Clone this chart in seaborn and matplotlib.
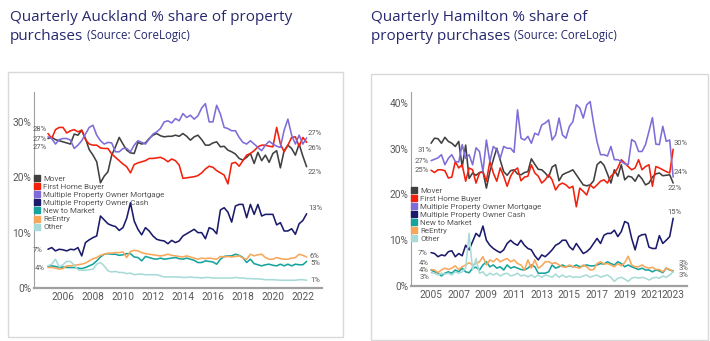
import numpy as np
import pandas as pd
import seaborn as sns
import matplotlib
matplotlib.use("Agg")
import matplotlib.pyplot as plt
from matplotlib.lines import Line2D
from matplotlib.patches import Rectangle

# ---------------- data ----------------
segments = ["Mover", "First Home Buyer", "Multiple Property Owner Mortgage",
            "Multiple Property Owner Cash", "New to Market", "ReEntry", "Other"]
colors = ["#404040", "#f2200c", "#7f6cd8", "#1c1b6b", "#17a39d", "#f8a75a", "#a8dbd7"]

akl_quarters = [str(p) for p in pd.period_range("2005Q1", periods=70, freq="Q")]
hmn_quarters = [str(p) for p in pd.period_range("2005Q1", periods=71, freq="Q")]

akl_mover = [27.0, 27.2, 26.8, 26.6, 26.4, 26.2, 26.0, 27.8, 27.6, 28.5,
             27.0, 25.0, 24.0, 22.8, 19.0, 20.2, 21.0, 24.0, 25.5, 27.2,
             26.0, 24.9, 24.4, 24.3, 26.3, 26.0, 26.2, 27.0, 27.6, 27.9,
             27.5, 27.3, 27.4, 27.4, 27.6, 27.4, 27.9, 27.4, 26.7, 27.3,
             27.6, 26.8, 25.8, 25.8, 26.2, 26.4, 25.5, 25.6, 24.9, 24.6,
             24.2, 23.4, 23.1, 23.6, 24.3, 22.5, 24.5, 23.0, 24.0, 22.7,
             24.3, 24.8, 21.7, 24.8, 25.8, 25.2, 24.0, 26.0, 23.8, 21.9]
akl_fhb = [27.9, 27.0, 28.6, 29.0, 29.0, 28.0, 28.4, 28.6, 28.2, 28.5,
           26.8, 26.0, 25.8, 25.8, 25.3, 25.2, 25.2, 24.2, 23.6, 23.0,
           22.4, 21.9, 20.8, 22.3, 22.6, 22.8, 23.0, 23.4, 23.4, 23.5,
           23.6, 23.3, 22.8, 23.3, 23.0, 22.2, 19.8, 19.9, 20.0, 20.1,
           20.3, 20.8, 21.5, 22.0, 21.8, 21.2, 20.8, 20.4, 18.8, 22.5,
           22.7, 22.0, 23.0, 24.0, 24.3, 24.8, 25.5, 25.8, 25.8, 25.6,
           25.5, 29.0, 26.0, 24.6, 25.8, 27.2, 27.3, 25.6, 27.2, 26.3]
akl_mortgage = [27.3, 27.0, 26.0, 26.8, 27.0, 27.0, 26.7, 25.2, 25.8, 26.6,
                27.8, 29.0, 29.4, 27.6, 26.6, 26.0, 26.3, 26.2, 24.6, 24.6,
                25.2, 25.2, 24.6, 25.8, 26.6, 26.3, 26.0, 26.9, 27.8, 28.2,
                28.8, 30.0, 30.2, 29.8, 30.6, 30.2, 31.5, 30.8, 31.2, 30.5,
                31.1, 32.5, 33.3, 30.0, 30.0, 33.0, 31.4, 29.0, 28.8, 28.4,
                28.4, 27.2, 26.3, 26.0, 26.6, 26.0, 25.4, 24.8, 25.8, 26.5,
                26.0, 25.6, 25.4, 28.5, 30.5, 27.6, 26.0, 27.6, 26.0, 27.1]
akl_cash = [7.0, 7.3, 6.7, 7.0, 6.9, 6.7, 7.0, 6.9, 7.3, 5.8,
            8.2, 8.7, 9.1, 9.4, 13.0, 12.3, 11.6, 11.3, 11.1, 10.4,
            10.9, 12.6, 15.4, 12.1, 10.6, 9.6, 10.9, 10.3, 9.4, 8.8,
            8.6, 8.5, 8.0, 8.6, 8.2, 8.5, 9.4, 9.8, 10.2, 10.6,
            10.0, 10.0, 8.9, 10.9, 10.6, 9.8, 14.1, 14.5, 13.7, 11.9,
            14.8, 15.1, 15.1, 12.7, 15.1, 13.3, 15.1, 13.0, 13.3, 13.3,
            13.3, 11.4, 11.8, 10.3, 10.3, 10.7, 9.7, 11.6, 12.2, 13.4]
akl_new = [3.9, 4.0, 3.9, 3.7, 3.8, 3.7, 3.7, 3.7, 3.6, 3.5,
           3.7, 4.0, 4.3, 4.9, 5.6, 6.1, 6.2, 6.1, 6.1, 5.9,
           6.0, 6.2, 6.2, 5.6, 5.5, 4.9, 5.7, 5.5, 5.3, 5.2,
           5.4, 5.2, 5.3, 5.4, 5.5, 5.3, 5.2, 5.4, 5.2, 5.0,
           4.6, 4.6, 4.9, 4.8, 4.7, 4.3, 5.2, 5.7, 5.8, 5.8,
           6.1, 5.9, 5.5, 4.6, 5.2, 4.4, 4.2, 4.0, 4.2, 4.3,
           4.1, 4.0, 4.3, 4.0, 4.3, 4.0, 4.3, 4.2, 4.2, 4.8]
akl_reentry = [3.7, 3.7, 3.6, 3.4, 3.5, 4.0, 4.0, 4.1, 4.2, 4.3,
               4.5, 4.9, 5.3, 5.5, 5.9, 6.1, 6.3, 6.3, 6.4, 6.4,
               6.5, 5.5, 6.6, 6.8, 6.7, 6.4, 6.2, 6.1, 6.0, 5.9,
               5.8, 5.9, 6.1, 5.9, 5.8, 5.7, 5.6, 5.8, 5.6, 5.4,
               5.2, 5.4, 5.3, 5.4, 5.3, 5.2, 5.7, 5.6, 5.7, 5.6,
               5.7, 5.8, 5.4, 5.2, 6.1, 5.8, 6.0, 6.1, 5.5, 5.2,
               5.2, 5.5, 5.3, 5.2, 5.2, 5.4, 5.5, 6.1, 5.9, 5.6]
akl_other = [4.0, 4.3, 5.2, 3.8, 4.2, 4.8, 4.8, 4.1, 3.3, 3.2,
             3.2, 3.3, 3.4, 4.3, 4.6, 4.0, 3.1, 2.9, 3.0, 2.8,
             2.8, 2.6, 2.7, 2.4, 2.5, 2.5, 2.4, 2.4, 2.4, 2.4,
             2.2, 2.0, 2.0, 2.0, 2.0, 2.0, 1.9, 1.9, 2.0, 1.9,
             1.9, 1.8, 1.9, 1.9, 1.8, 1.8, 1.8, 1.8, 1.8, 1.8,
             1.9, 1.8, 1.8, 1.7, 1.7, 1.65, 1.65, 1.6, 1.5, 1.5,
             1.5, 1.45, 1.4, 1.4, 1.4, 1.4, 1.4, 1.5, 1.5, 1.4]

hmn_mover = [31.2, 32.3, 32.2, 31.2, 32.5, 31.6, 31.2, 30.5, 31.6, 26.0,
             30.8, 23.5, 24.7, 24.2, 24.8, 25.0, 21.4, 25.0, 27.6, 30.1,
             27.5, 25.0, 24.2, 25.2, 25.4, 24.5, 24.3, 24.8, 25.0, 27.8,
             26.6, 25.5, 25.4, 24.7, 23.8, 26.0, 26.5, 23.0, 24.3, 24.7,
             25.0, 25.4, 24.3, 23.2, 22.1, 21.9, 22.1, 23.0, 26.5, 27.2,
             26.4, 24.5, 22.5, 25.4, 24.0, 26.5, 23.2, 24.0, 23.8, 22.9,
             24.3, 23.4, 22.1, 22.5, 23.8, 24.5, 24.7, 24.1, 24.2, 24.3,
             22.5]
hmn_fhb = [25.3, 24.8, 25.4, 25.4, 25.2, 23.6, 23.8, 27.2, 25.8, 26.5,
           22.9, 25.8, 25.4, 22.5, 24.7, 25.0, 22.9, 27.2, 24.7, 22.9,
           25.8, 24.0, 21.8, 24.0, 25.2, 25.8, 23.0, 23.8, 24.0, 26.5,
           24.7, 24.0, 22.5, 23.2, 24.3, 23.2, 21.0, 22.1, 22.5, 22.1,
           21.4, 21.8, 17.3, 21.4, 20.7, 19.9, 22.1, 21.4, 22.1, 22.9,
           23.2, 22.5, 24.0, 24.7, 25.8, 27.6, 26.9, 26.1, 25.4, 25.8,
           27.6, 25.4, 26.1, 26.5, 21.8, 26.1, 25.8, 25.4, 25.0, 24.7,
           29.9]
hmn_mortgage = [27.4, 27.7, 28.0, 28.7, 26.5, 27.9, 28.7, 27.2, 27.1, 30.9,
                27.9, 28.7, 26.5, 30.2, 29.4, 25.0, 31.9, 27.2, 30.5, 29.8,
                27.9, 30.5, 30.1, 30.1, 29.2, 38.5, 32.3, 31.9, 32.7, 31.2,
                33.4, 33.0, 35.2, 35.6, 36.3, 31.9, 33.0, 36.7, 33.0, 32.3,
                34.9, 35.9, 39.6, 38.9, 36.7, 39.6, 40.3, 35.5, 31.5, 28.7,
                28.7, 28.4, 30.5, 27.6, 27.6, 27.2, 26.7, 26.5, 32.0, 31.5,
                29.4, 29.4, 30.9, 33.8, 36.8, 31.0, 30.9, 34.9, 31.6, 31.9,
                23.8]
hmn_cash = [7.3, 7.1, 6.4, 6.8, 6.6, 7.5, 7.7, 6.4, 7.1, 6.6,
            8.9, 7.9, 9.7, 11.5, 10.8, 13.1, 10.0, 8.9, 8.2, 7.7,
            7.3, 7.9, 9.3, 10.0, 9.3, 8.9, 10.0, 8.9, 8.2, 7.9,
            6.6, 5.7, 6.8, 6.4, 7.1, 7.9, 8.9, 9.3, 10.0, 10.0,
            8.6, 7.9, 9.3, 8.2, 7.1, 7.5, 8.2, 9.3, 10.4, 9.3,
            11.1, 11.5, 11.5, 12.2, 10.8, 11.9, 14.1, 13.7, 10.4, 7.9,
            10.8, 11.2, 11.3, 8.5, 8.2, 8.2, 11.0, 9.3, 10.0, 10.8,
            14.8]
hmn_new = [3.5, 3.1, 2.8, 2.2, 2.8, 3.1, 2.8, 3.5, 3.1, 3.9,
           3.1, 2.9, 3.9, 4.1, 3.5, 4.6, 5.3, 4.2, 4.6, 3.9,
           4.2, 3.5, 4.6, 3.9, 4.2, 3.9, 3.6, 3.5, 3.9, 4.6,
           4.2, 2.8, 2.8, 2.8, 3.1, 4.6, 3.9, 4.2, 4.6, 4.2,
           4.4, 4.2, 4.6, 4.2, 4.4, 4.6, 4.4, 4.4, 4.6, 4.9,
           4.8, 5.3, 4.9, 4.6, 5.3, 4.9, 4.2, 4.6, 4.2, 3.9,
           3.6, 3.9, 3.5, 3.5, 3.1, 3.5, 3.3, 2.9, 3.9, 3.5,
           3.3]
hmn_reentry = [3.6, 3.5, 2.9, 3.5, 3.9, 3.6, 3.9, 4.4, 3.6, 4.2,
               4.6, 5.1, 4.6, 4.9, 5.3, 6.4, 4.6, 5.7, 5.3, 6.0,
               5.3, 5.7, 6.0, 5.3, 5.7, 4.9, 4.6, 3.5, 5.7, 3.9,
               5.7, 3.9, 4.4, 5.3, 5.3, 4.9, 5.1, 4.6, 4.2, 4.1,
               4.6, 4.2, 4.1, 3.9, 4.6, 4.2, 3.5, 3.6, 4.9, 5.3,
               4.8, 4.9, 4.6, 4.2, 4.9, 4.4, 5.1, 6.5, 4.6, 4.2,
               4.2, 4.6, 4.1, 3.9, 4.1, 3.6, 3.6, 3.1, 3.9, 3.6,
               3.1]
hmn_other = [2.9, 2.8, 2.4, 2.8, 2.6, 2.8, 2.4, 3.1, 2.8, 3.1,
             3.9, 11.5, 3.5, 6.0, 2.8, 3.1, 2.2, 2.8, 2.4, 2.8,
             2.2, 2.6, 2.8, 2.2, 2.4, 2.8, 2.2, 2.4, 2.0, 2.4,
             1.9, 2.4, 1.9, 2.4, 2.2, 1.9, 2.6, 1.9, 2.4, 1.9,
             2.2, 1.9, 2.0, 1.9, 2.2, 2.4, 1.9, 2.2, 2.4, 1.9,
             2.2, 2.4, 1.9, 1.0, 1.7, 1.9, 1.5, 1.0, 1.7, 1.9,
             1.7, 1.9, 1.7, 1.3, 1.7, 1.9, 1.7, 2.2, 1.9, 2.4,
             3.1]

akl_years = ["2006", "2008", "2010", "2012", "2014", "2016", "2018", "2020", "2022"]
hmn_years = ["2005", "2007", "2009", "2011", "2013", "2015", "2017", "2019", "2021", "2023"]
akl_yticks = [0, 10, 20, 30]
hmn_yticks = [0, 10, 20, 30, 40]

# point labels: (segment, text, dx_pt, dy_pt)
akl_start_labels = [("First Home Buyer", "28%", -1, 3.6), ("Mover", "27%", -1, -0.7),
                    ("Multiple Property Owner Mortgage", "27%", -1, -7.2),
                    ("Multiple Property Owner Cash", "7%", -3.6, -0.7),
                    ("New to Market", "4%", -2.2, -0.8)]
akl_end_labels = [("Multiple Property Owner Mortgage", "27%", 1, 3.6), ("First Home Buyer", "26%", 1, -4.2),
                  ("Mover", "22%", 1, -3.8), ("Multiple Property Owner Cash", "13%", 1, 4.4),
                  ("ReEntry", "6%", 2.4, 0.4), ("New to Market", "5%", 2.4, -0.9), ("Other", "1%", 2.4, 0)]
hmn_start_labels = [("Mover", "31%", 0.7, -5), ("Multiple Property Owner Mortgage", "27%", -1.4, -0.4),
                    ("First Home Buyer", "25%", -1.4, 0), ("Multiple Property Owner Cash", "7%", -2.9, 0),
                    ("ReEntry", "4%", -1.4, 4.7), ("New to Market", "4%", -1.4, 0), ("Other", "3%", -1.4, -3)]
hmn_end_labels = [("First Home Buyer", "30%", 0.5, 4.3), ("Multiple Property Owner Mortgage", "24%", 0.5, 3.6),
                  ("Mover", "22%", -4.3, -3.6), ("Multiple Property Owner Cash", "15%", -4.3, 4.4),
                  ("ReEntry", "3%", 3.6, 6.4), ("New to Market", "3%", 3.6, 2.2), ("Other", "3%", 3.6, -2.6)]

akl_series = dict(zip(segments, [akl_mover, akl_fhb, akl_mortgage, akl_cash, akl_new, akl_reentry, akl_other]))
hmn_series = dict(zip(segments, [hmn_mover, hmn_fhb, hmn_mortgage, hmn_cash, hmn_new, hmn_reentry, hmn_other]))

# ---------------- style ----------------
sns.set_style("white")
plt.rcParams["font.family"] = ["Roboto", "DejaVu Sans"]
W, H = 710, 341
fig = plt.figure(figsize=(W / 100, H / 100), dpi=100)
fig.patch.set_facecolor("white")
palette = dict(zip(segments, colors))
GREY = "#595959"
TITLE = "#27296e"


def fx(px):
    return px / W


def fy(py):
    return 1 - py / H


def panel(rect, quarters, series, ylim, yticks, years, tick_pos, xlim, start_labels, end_labels, legend_anchor):
    ax = fig.add_axes(rect)
    df = pd.concat([pd.DataFrame({"q": np.arange(len(v)), "share": v, "segment": k})
                    for k, v in series.items()], ignore_index=True)
    sns.lineplot(data=df, x="q", y="share", hue="segment", hue_order=segments,
                 palette=palette, linewidth=1.15, legend=False, ax=ax)
    ax.set_xlim(*xlim)
    ax.set_ylim(*ylim)
    ax.set_yticks(yticks)
    ax.set_yticklabels([f"{t}%" for t in yticks])
    ax.set_xticks(tick_pos)
    ax.set_xticklabels(years)
    ax.set_xlabel("")
    ax.set_ylabel("")
    ax.tick_params(axis="both", length=0, labelsize=7.3, labelcolor=GREY)
    ax.tick_params(axis="y", pad=2)
    ax.tick_params(axis="x", pad=3)
    for s in ["top", "right"]:
        ax.spines[s].set_visible(False)
    ax.spines["left"].set_color("#a0a0a0")
    ax.spines["left"].set_linewidth(0.8)
    ax.spines["bottom"].set_color("#a0a0a0")
    ax.spines["bottom"].set_linewidth(1.6)
    ax.set_facecolor("none")
    n = len(quarters)
    for seg, txt, dx, dy in start_labels:
        ax.annotate(txt, xy=(0, series[seg][0]), xytext=(dx, dy), textcoords="offset points",
                    ha="right", va="center", fontsize=5.5, color=GREY)
    for seg, txt, dx, dy in end_labels:
        ax.annotate(txt, xy=(n - 1, series[seg][-1]), xytext=(dx, dy), textcoords="offset points",
                    ha="left", va="center", fontsize=5.5, color=GREY)
    handles = [Line2D([], [], marker="s", ls="", color=palette[s], markersize=3.7) for s in segments]
    ax.legend(handles, segments, loc="upper left", bbox_to_anchor=legend_anchor, frameon=False,
              fontsize=5.8, labelspacing=0.18, handlelength=0.7, handletextpad=0.45,
              borderpad=0, borderaxespad=0, labelcolor=GREY)
    return ax


# Auckland
akl_tick_pos = [akl_quarters.index(f"{y}Q1") for y in akl_years]
panel([fx(34), 1 - 288 / H, fx(288), 196 / H], akl_quarters, akl_series, (0, 35.4), akl_yticks,
      akl_years, akl_tick_pos, (-3.73, 73.1), akl_start_labels, akl_end_labels, (0.0, 0.575))

# Hamilton
hmn_tick_pos = [hmn_quarters.index(f"{y}Q1") for y in hmn_years[:-1]] + [len(hmn_quarters) - 1]
panel([fx(411), 1 - 286 / H, fx(276), 194 / H], hmn_quarters, hmn_series, (0, 42.4), hmn_yticks,
      hmn_years, hmn_tick_pos, (-5.8, 74), hmn_start_labels, hmn_end_labels, (0.0, 0.51))

# frames
for (x0, y0, x1, y1) in [(8, 72, 343, 337), (371, 74, 708, 340)]:
    fig.add_artist(Rectangle((fx(x0), fy(y1)), fx(x1 - x0), (y1 - y0) / H, transform=fig.transFigure,
                             fill=False, edgecolor="#d9d9d9", linewidth=1.0))


# titles
def title(x, line1, line2, src):
    fig.text(fx(x), fy(21), line1, fontsize=11, color=TITLE, ha="left", va="baseline",
             family=["Open Sans", "DejaVu Sans"])
    t2 = fig.text(fx(x), fy(39.5), line2, fontsize=11, color=TITLE, ha="left", va="baseline",
                  family=["Open Sans", "DejaVu Sans"])
    plt.annotate(src, xy=(1.0, fy(39.5)), xycoords=(t2, "figure fraction"), xytext=(3, 0),
                 textcoords="offset points", fontsize=8.3, color=TITLE, ha="left", va="baseline",
                 family=["Open Sans", "DejaVu Sans"], annotation_clip=False)


title(10, "Quarterly Auckland % share of property", "purchases", "(Source: CoreLogic)")
title(371, "Quarterly Hamilton % share of", "property purchases", "(Source: CoreLogic)")

fig.savefig("out.png", dpi=100, facecolor="white")
